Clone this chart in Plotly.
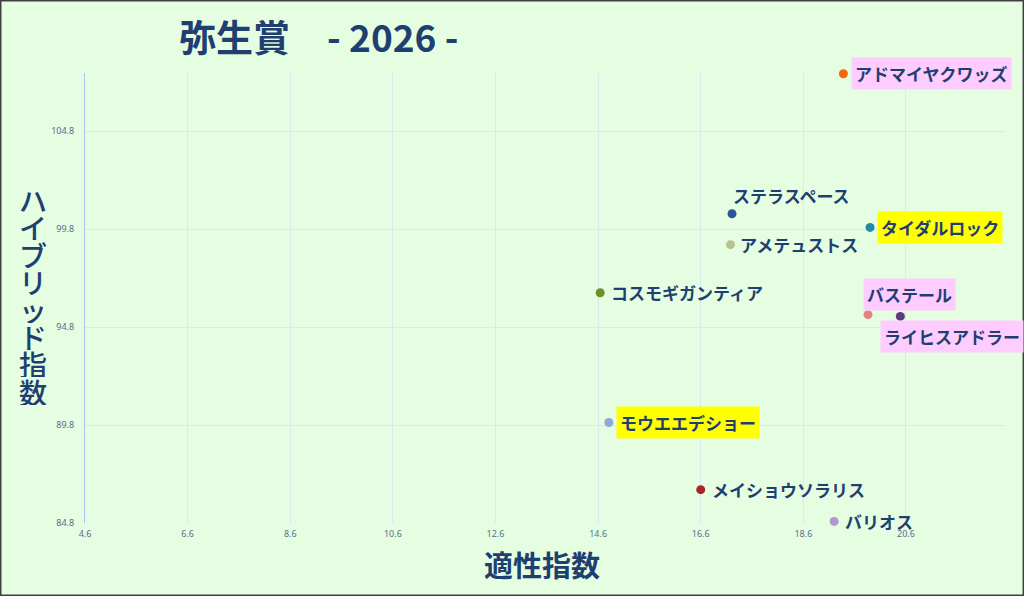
import plotly.graph_objects as go

# data
horses = ["アドマイヤクワッズ", "ステラスペース", "タイダルロック", "アメテュストス",
          "コスモギガンティア", "バステール", "ライヒスアドラー", "モウエエデショー",
          "メイショウソラリス", "バリオス"]
tekisei = [19.38, 17.21, 19.90, 17.18, 14.64, 19.86, 20.49, 14.81, 16.60, 19.20]
hybrid = [107.72, 100.58, 99.88, 99.00, 96.55, 95.43, 95.34, 89.93, 86.50, 84.88]

dot_colors = ["#f06a0a", "#2b559e", "#2389a8", "#b4c48c", "#6f8f2a",
              "#e08484", "#5b3b7e", "#8ea8d8", "#a8262a", "#b497cc"]
# label highlight (None = no box)
label_bg = ["#ffccff", None, "#ffff00", None, None,
            "#ffccff", "#ffccff", "#ffff00", None, None]
# label offsets in px (xshift, yshift)
label_pos = [(8, 0), (-3, 18), (7, 0), (6, 0), (7, 0),
             (-5, 20), (-20, -20), (7, 0), (7, 0), (7, 0)]

x_ticks = [4.6, 6.6, 8.6, 10.6, 12.6, 14.6, 16.6, 18.6, 20.6]
y_ticks = [84.8, 89.8, 94.8, 99.8, 104.8]

navy = "#1f3f70"
jp = "Noto Sans CJK JP"

fig = go.Figure()
fig.add_trace(go.Scatter(
    x=tekisei, y=hybrid, mode="markers", cliponaxis=False,
    marker=dict(size=9, color=dot_colors, line=dict(width=0)),
    hoverinfo="text", text=horses, showlegend=False,
))

for i, name in enumerate(horses):
    xs, ys = label_pos[i]
    ann = dict(x=tekisei[i], y=hybrid[i], text=name, showarrow=False,
               xanchor="left", yanchor="middle", xshift=xs, yshift=ys,
               font=dict(family=jp, size=17, color=navy, weight="bold"),
               borderpad=3)
    if label_bg[i]:
        ann["bgcolor"] = label_bg[i]
    fig.add_annotation(**ann)

# title
fig.add_annotation(xref="paper", yref="paper", x=0.1, y=1.082, xanchor="left",
                   yanchor="middle", showarrow=False,
                   text="弥生賞　- 2026 -",
                   font=dict(family=jp, size=37, color=navy, weight="bold"))

# y axis title, stacked upright one char per line
for i, ch in enumerate("ハイブリッド指数"):
    fig.add_annotation(xref="paper", yref="paper", x=-0.056,
                       y=(523 - 200 - 27.4 * i) / 450, xanchor="center",
                       yanchor="middle", showarrow=False, text=ch, height=26,
                       font=dict(family=jp, size=28, color=navy, weight=500))

# x axis title
fig.add_annotation(xref="paper", yref="paper", x=0.497, y=-0.092, xanchor="center",
                   yanchor="middle", showarrow=False, text="適性指数",
                   font=dict(family=jp, size=29, color=navy, weight="bold"))

# outer border
fig.add_shape(type="rect", xref="paper", yref="paper", x0=-0.0924, x1=1.0207,
              y0=-0.1622, y1=1.1622, line=dict(color="#404040", width=3),
              layer="above")

fig.update_xaxes(range=[4.6, 22.53], tickvals=x_ticks, ticktext=[str(v) for v in x_ticks],
                 showgrid=True, gridcolor="#dbe8f4", gridwidth=1, zeroline=False,
                 showline=False, ticks="", ticklabelstandoff=4,
                 tickfont=dict(family="Noto Sans", size=9, color="#5a6d8c"))
fig.update_yaxes(range=[84.8, 107.76], tickvals=y_ticks, ticktext=[str(v) for v in y_ticks],
                 showgrid=True, gridcolor="#dbe8f4", gridwidth=1, zeroline=False,
                 showline=True, linecolor="#a9c4f3", linewidth=1, ticks="",
                 ticklabelstandoff=8,
                 tickfont=dict(family="Noto Sans", size=9, color="#5a6d8c"))

fig.update_layout(
    width=1024, height=596,
    margin=dict(l=85, r=19, t=73, b=73),
    paper_bgcolor="#e5fde1", plot_bgcolor="#e5fde1",
)

fig.write_html("out.html", config={"displayModeBar": False},
               post_script="document.body.style.margin='0';")
